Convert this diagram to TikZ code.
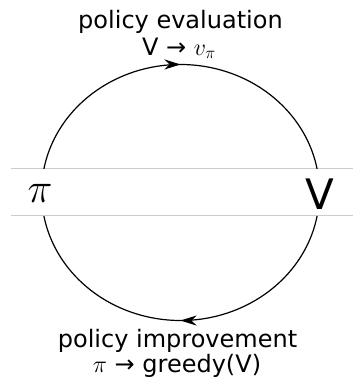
\RequirePackage{fix-cm}
\documentclass[tikz,border=0pt]{standalone}
\usepackage{fontspec}
\setmainfont{DejaVu Sans}
\usetikzlibrary{arrows.meta,decorations.markings}
\tikzset{
  label/.style={font=\fontsize{24bp}{28bp}\selectfont, inner sep=0pt, anchor=base},
  big/.style={font=\fontsize{42bp}{46bp}\selectfont, inner sep=0pt},
  band/.style={draw=black!20, line width=1bp},
  cyc/.style={draw=black, line width=1.2bp},
  midarrow/.style={postaction={decorate}, decoration={markings,
     mark=at position 0.5 with {\arrow{Stealth[length=16bp,width=10bp,inset=5bp]}}}}
}
\begin{document}
\begin{tikzpicture}[x=1bp,y=1bp]
\useasboundingbox (0,0) rectangle (353,385);
% band lines
\coordinate (bl1) at (11,216);
\coordinate (br1) at (353,216);
\coordinate (bl2) at (11,169);
\coordinate (br2) at (353,169);
\draw[band] (bl1) -- (br1);
\draw[band] (bl2) -- (br2);
% cycle arcs
\coordinate (c) at (180.5,192.5);
\draw[cyc, midarrow] ([shift={(169.42:139 and 128)}]c) arc[start angle=169.42, end angle=10.58, x radius=139, y radius=128];
\draw[cyc, midarrow] ([shift={(-10.58:139 and 128)}]c) arc[start angle=-10.58, end angle=-169.42, x radius=139, y radius=128];
% labels
\node[label] (pe) at (180.5,357) {policy evaluation};
\node[label] (pev) at (179,330) {V → $v_\pi$};
\node[label] (pi) at (177.5,38) {policy improvement};
\node[label] (piv) at (177,13) {$\pi$ → greedy(V)};
\node[big] (pinode) at (40,192) {$\pi$};
\node[big] (vnode) at (320,191) {V};
\end{tikzpicture}
\end{document}
